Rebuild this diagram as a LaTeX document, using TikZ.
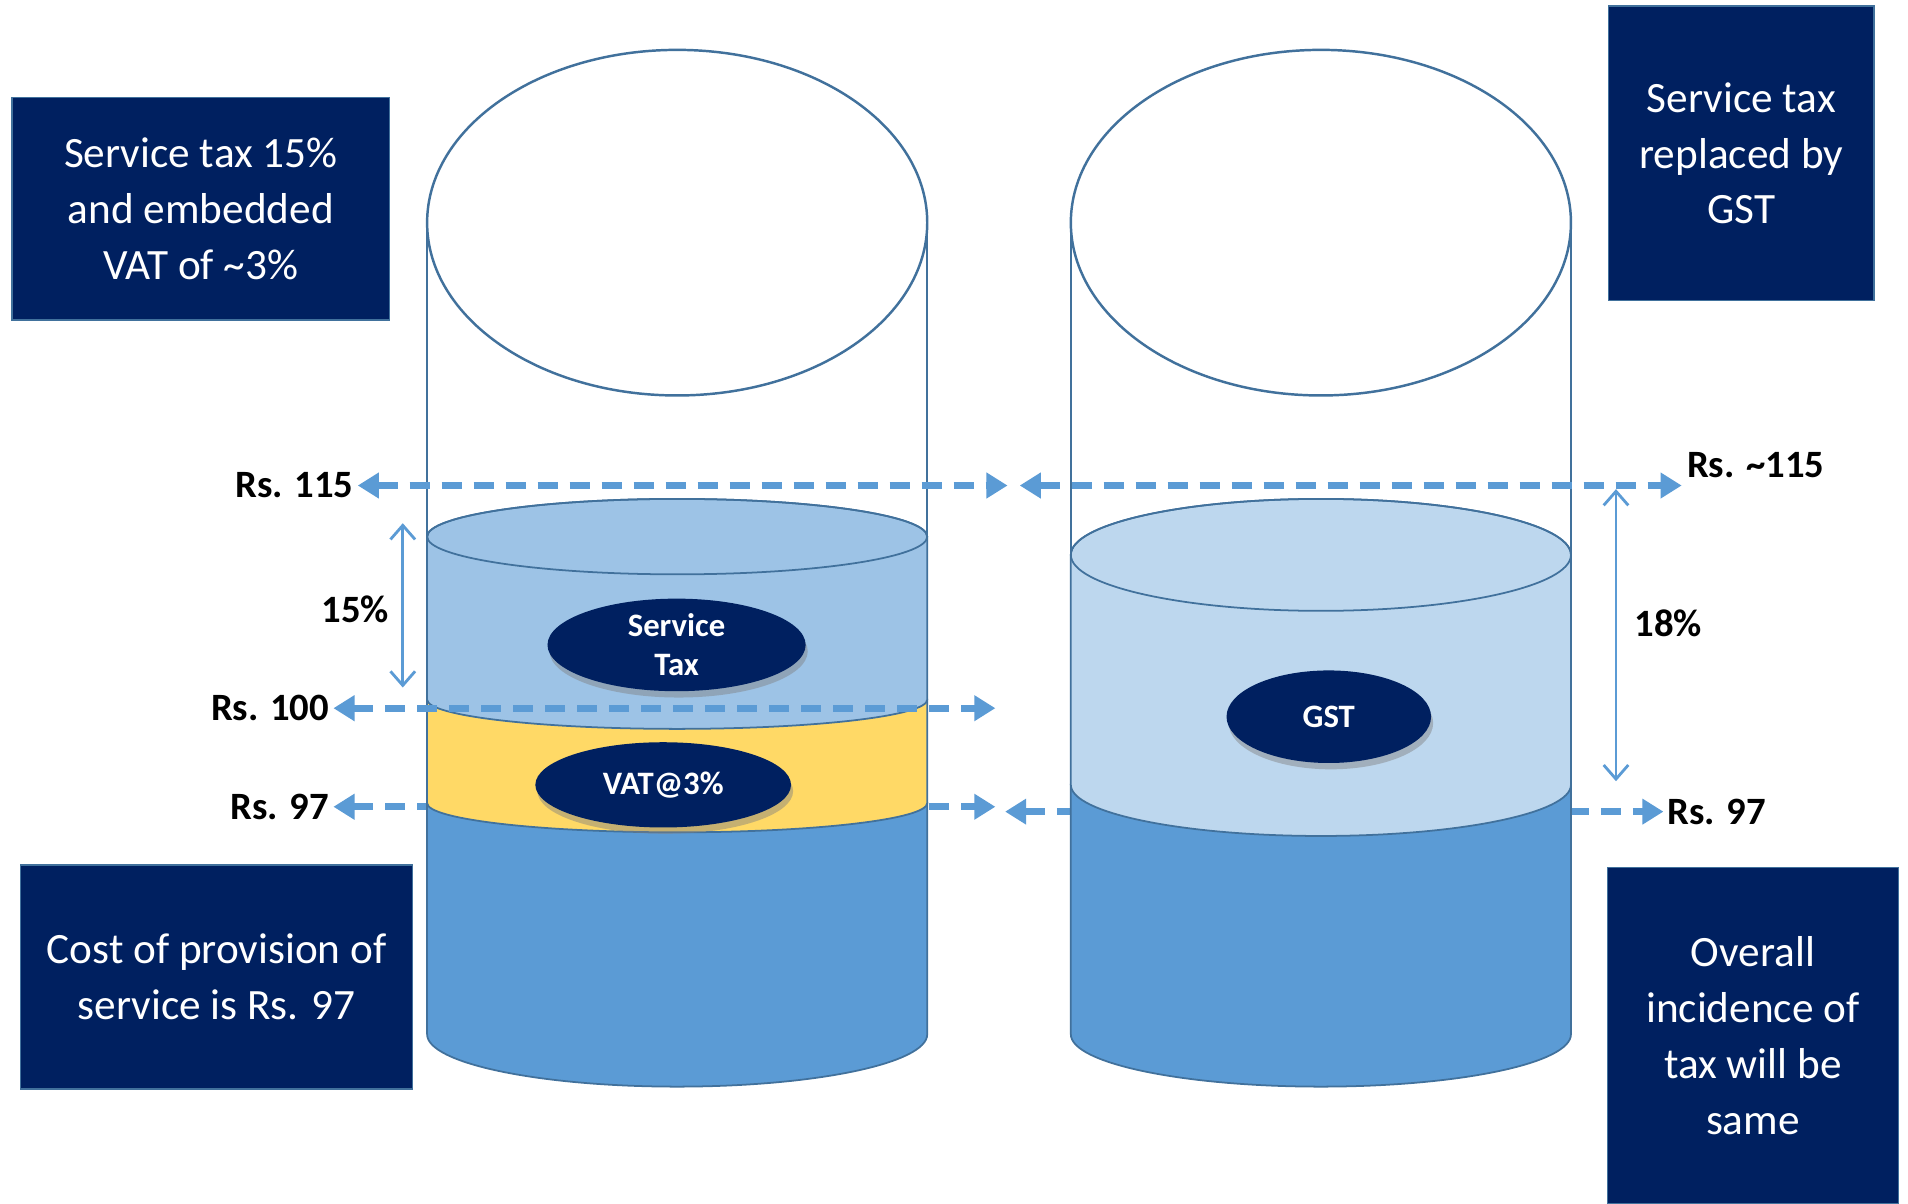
\documentclass[tikz,border=0pt]{standalone}
\usepackage{fontspec}
\setmainfont{Carlito}
\usetikzlibrary{arrows.meta,shapes.geometric,shadows}
\definecolor{navy}{HTML}{002060}
\definecolor{glass}{HTML}{41719C}
\definecolor{water}{HTML}{5B9BD5}
\definecolor{stblue}{HTML}{9DC3E6}
\definecolor{gstblue}{HTML}{BDD7EE}
\definecolor{vatyellow}{HTML}{FFD966}

\begin{document}
\begin{tikzpicture}[x=0.012168cm,y=-0.012168cm,
  infobox/.style={fill=navy,draw=glass,line width=0.4pt,text=white,align=center,inner sep=0pt,font=\fontsize{12.3}{15.9}\selectfont},
  taxoval/.style={ellipse,fill=navy,text=white,align=center,inner sep=0pt,font=\bfseries\fontsize{9.3}{11}\selectfont,drop shadow={shadow xshift=0.6pt,shadow yshift=-1.8pt,opacity=0.45}},
  level/.style={font=\bfseries\fontsize{11}{13}\selectfont,inner sep=1pt},
  levelline/.style={water,line width=2pt,dash pattern=on 5.7pt off 3.4pt,{Triangle[length=6pt,width=7pt]}-{Triangle[length=6pt,width=7pt]}},
  gap/.style={water,line width=0.8pt,{Straight Barb[length=4pt,width=7pt]}-{Straight Barb[length=4pt,width=7pt]}},
  jar/.style={glass,line width=0.7pt},
  layer/.style={draw=glass,line width=0.5pt}]
\useasboundingbox[fill=white] (0,0) rectangle (1568,989);

% glasses
\draw[jar] (556.5,183) ellipse[x radius=205.5,y radius=142];
\draw[jar] (351,183) -- (351,850);
\draw[jar] (762,183) -- (762,850);
\draw[jar] (1085.5,183) ellipse[x radius=205.5,y radius=142];
\draw[jar] (880,183) -- (880,850);
\draw[jar] (1291,183) -- (1291,850);

\node[level,anchor=east] (r115) at (294,399) {Rs. 115};
\node[level,anchor=east] (r100) at (274,582) {Rs. 100};
\node[level,anchor=east] (r97l) at (274,663) {Rs. 97};
\node[level,anchor=west] (r115r) at (1383,382) {Rs. \textasciitilde115};
\node[level,anchor=west] (r97r) at (1367,667) {Rs. 97};
\node[level] (p15) at (292,501) {15\%};
\node[level] (p18) at (1371,512) {18\%};

\coordinate (m115l) at (828,399);
\coordinate (m115r) at (838,399);
\coordinate (e115) at (1382,399);
\coordinate (m100) at (818,582);
\coordinate (m97l) at (818,663);
\coordinate (m97r) at (826,667);
\coordinate (t15) at (331,430);
\coordinate (b15) at (331,565);
\coordinate (t18) at (1328,402);
\coordinate (b18) at (1328,642);

% Rs. 97 lines run behind the liquid
\draw[levelline] (r97l.east) -- (m97l);
\draw[levelline] (m97r) -- (r97r.west);

% left glass: cost, VAT, service tax
\filldraw[layer,fill=water] (351,660) -- (351,850) arc[start angle=180,end angle=0,x radius=205.5,y radius=43] -- (762,660) -- cycle;
\filldraw[layer,fill=vatyellow] (351,575) -- (351,660) arc[start angle=180,end angle=0,x radius=205.5,y radius=24] -- (762,575) -- cycle;
\filldraw[layer,fill=stblue] (351,441) -- (351,575) arc[start angle=180,end angle=0,x radius=205.5,y radius=24] -- (762,441) arc[start angle=0,end angle=-180,x radius=205.5,y radius=31] -- cycle;
\draw[layer] (556.5,441) ellipse[x radius=205.5,y radius=31];

% right glass: cost, GST
\filldraw[layer,fill=water] (880,645) -- (880,850) arc[start angle=180,end angle=0,x radius=205.5,y radius=43] -- (1291,645) -- cycle;
\filldraw[layer,fill=gstblue] (880,456) -- (880,645) arc[start angle=180,end angle=0,x radius=205.5,y radius=42] -- (1291,456) arc[start angle=0,end angle=-180,x radius=205.5,y radius=46] -- cycle;
\draw[layer] (1085.5,456) ellipse[x radius=205.5,y radius=46];

\node[taxoval,minimum width=2.58cm,minimum height=0.925cm] (st) at (556,530) {Service\\Tax};
\node[taxoval,minimum width=2.555cm,minimum height=0.852cm] (vat) at (545,645) {VAT@3\%};
\node[taxoval,minimum width=2.044cm,minimum height=0.925cm] (gst) at (1092,589) {GST};

\node[infobox,minimum width=3.772cm,minimum height=2.227cm] (before) at (165,171.5) {Service tax 15\%\\and embedded\\VAT of \textasciitilde3\%};
\node[infobox,minimum width=2.653cm,minimum height=2.945cm] (after) at (1431,126) {Service tax\\replaced by\\GST};
\node[infobox,minimum width=3.918cm,minimum height=2.239cm] (cost) at (178,803) {Cost of provision of\\service is Rs. 97};
\node[infobox,minimum width=2.908cm,minimum height=3.358cm] (same) at (1440.5,851) {Overall\\incidence of\\tax will be\\same};

\draw[levelline] (r115.east) -- (m115l);
\draw[levelline] (m115r) -- (e115);
\draw[levelline] (r100.east) -- (m100);
\draw[gap] (t15) -- (b15);
\draw[gap] (t18) -- (b18);
\end{tikzpicture}
\end{document}
